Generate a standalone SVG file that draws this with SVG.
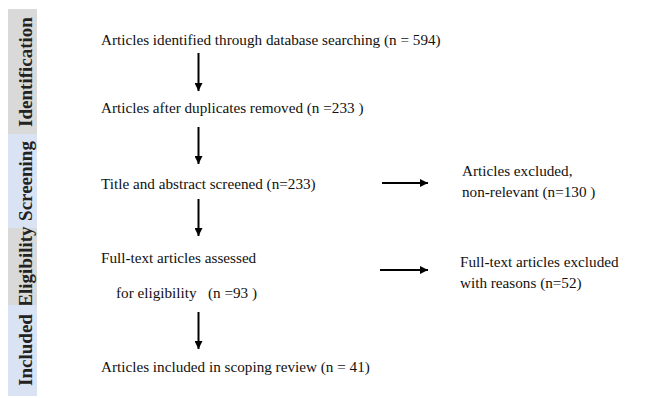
<svg xmlns="http://www.w3.org/2000/svg" width="653" height="398" viewBox="0 0 653 398">
<defs>
<marker id="ah" viewBox="0 0 10 10" refX="10" refY="5" markerWidth="4" markerHeight="4" markerUnits="strokeWidth" orient="auto">
<path d="M0,0 L10,5 L0,10 z" fill="#000"/>
</marker>
<style>
.t{font-family:"Liberation Serif","Times New Roman",serif;font-size:15.2px;fill:#111}
.s{font-family:"Liberation Serif","Times New Roman",serif;font-size:19px;font-weight:bold;fill:#222}
.c{stroke:#000;stroke-width:2;fill:none;marker-end:url(#ah)}
</style>
</defs>
<rect width="653" height="398" fill="#fff"/>
<g id="stages">
<g id="stage-identification"><rect x="8" y="9" width="29" height="125" fill="#d9d9d9"/><text class="s" transform="translate(32,72) rotate(-90)" text-anchor="middle">Identification</text></g>
<g id="stage-screening"><rect x="8" y="134" width="29" height="94" fill="#dae3f3"/><text class="s" transform="translate(32,181) rotate(-90)" text-anchor="middle">Screening</text></g>
<g id="stage-eligibility"><rect x="8" y="228" width="29" height="77" fill="#d9d9d9"/><text class="s" transform="translate(32,266.5) rotate(-90)" text-anchor="middle">Eligibility</text></g>
<g id="stage-included"><rect x="8" y="305" width="29" height="91" fill="#dae3f3"/><text class="s" transform="translate(32,350) rotate(-90)" text-anchor="middle">Included</text></g>
</g>
<g id="n1"><text class="t" x="101" y="45">Articles identified through database searching (n = 594)</text></g>
<g id="n2"><text class="t" x="101" y="113">Articles after duplicates removed (n =233 )</text></g>
<g id="n3"><text class="t" x="101" y="189">Title and abstract screened (n=233)</text></g>
<g id="n4"><text class="t" x="462" y="176">Articles excluded,</text><text class="t" x="462" y="197">non-relevant (n=130 )</text></g>
<g id="n5"><text class="t" x="101" y="263">Full-text articles assessed</text><text class="t" x="116" y="298">for eligibility <tspan x="208">(n =93 )</tspan></text></g>
<g id="n6"><text class="t" x="460" y="267">Full-text articles excluded</text><text class="t" x="460" y="288">with reasons (n=52)</text></g>
<g id="n7"><text class="t" x="101" y="372">Articles included in scoping review (n = 41)</text></g>
<g id="connectors">
<line class="c" x1="198.5" y1="53" x2="198.5" y2="91"/>
<line class="c" x1="198.5" y1="127" x2="198.5" y2="164"/>
<line class="c" x1="198.5" y1="199" x2="198.5" y2="236"/>
<line class="c" x1="198.5" y1="312" x2="198.5" y2="349"/>
<line class="c" x1="382" y1="183" x2="428" y2="183"/>
<line class="c" x1="380" y1="270" x2="428" y2="270"/>
</g>
</svg>
